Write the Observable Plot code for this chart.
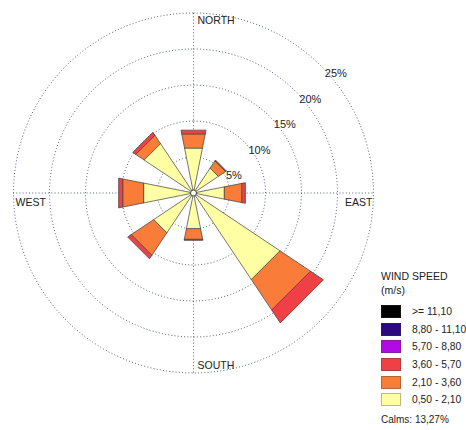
<!DOCTYPE html>
<html>
<head>
<meta charset="utf-8">
<script src="https://cdn.jsdelivr.net/npm/d3@7"></script>
<script src="https://cdn.jsdelivr.net/npm/@observablehq/plot@0.6"></script>
<style>
  html, body { margin: 0; padding: 0; background: #fff; }
  #chart { position: relative; width: 466px; height: 430px; font-family: "Liberation Sans", Arial, sans-serif; color: #222; }
  #chart > svg { position: absolute; left: 0; top: 0; }
  #key { position: absolute; left: 381px; top: 270px; width: 90px; font-size: 10.5px; line-height: 13px; color: #222; }
  #key .key-title { height: 13px; white-space: nowrap; }
  #key .key-unit { height: 13px; margin-top: 0.5px; margin-bottom: 8.5px; }
  #key .key-calms { margin-top: 1.5px; font-size: 10px; white-space: nowrap; }
  .rose-key-swatches { margin: 0 !important; width: 90px; font-family: "Liberation Sans", Arial, sans-serif !important; font-size: 10.3px !important; color: #222; }
  .rose-key-swatch { display: flex; align-items: center; height: 13px; padding-bottom: 4.7px !important; }
  .rose-key-swatch > svg { margin-right: 11px !important; outline: 1px solid rgba(60,60,40,0.35); outline-offset: -1px; }
  .rose-key-swatch-label { overflow: visible !important; text-overflow: clip !important; white-space: nowrap; }
</style>
</head>
<body>
<div id="chart"></div>
<script>
// Wind rose: frequency (%) of wind from each of 8 directions, split by speed class (m/s)
const directions = ["N", "NE", "E", "SE", "S", "SW", "W", "NW"];
const bearings = [0, 45, 90, 135, 180, 225, 270, 315];

// speed classes, listed as in the key (fastest first)
const speedClasses = [">= 11,10", "8,80 - 11,10", "5,70 - 8,80", "3,60 - 5,70", "2,10 - 3,60", "0,50 - 2,10"];
const classColors = ["#000000", "#2c0a7e", "#b00ae6", "#ef4046", "#f97d39", "#ffffa4"];

// frequency (%) per direction, one array per speed class
const freq050to210 = [6.4, 4.2, 4.4, 14.5, 5.1, 6.7, 7.1, 8.3];
const freq210to360 = [2.0, 1.2, 2.5, 5.1, 1.5, 3.75, 2.95, 1.4];
const freq360to570 = [0.5, 0.1, 0.45, 2.1, 0.1, 0.55, 0.55, 0.45];
const freq570to880 = [0, 0, 0, 0, 0, 0, 0, 0];
const freq880to1110 = [0, 0, 0, 0, 0, 0, 0, 0];
const freqAbove1110 = [0, 0, 0, 0, 0, 0, 0, 0];
const calmsPct = 13.27;

// frequency rings and their labels
const rings = [5, 10, 15, 20, 25];
const ringLabels = ["5%", "10%", "15%", "20%", "25%"];
const compassLabels = ["NORTH", "EAST", "SOUTH", "WEST"];
const compassBearings = [0, 90, 180, 270];

// ---- geometry helpers (data units are percent) ----
const rad = (deg) => deg * Math.PI / 180;
const polarX = (r, deg) => r * Math.sin(rad(deg));
const polarY = (r, deg) => r * Math.cos(rad(deg));
const petalHalfWidth = 11.25;
const outer = d3.max(rings);

// petals stacked outward from the slowest class
const stackSeries = [freq050to210, freq210to360, freq360to570, freq570to880, freq880to1110, freqAbove1110];
const stackClasses = speedClasses.slice().reverse();
const petalRows = [];
directions.forEach((dir, i) => {
  let r0 = 0;
  stackSeries.forEach((series, k) => {
    const v = series[i];
    if (!(v > 0)) return;
    const r1 = r0 + v;
    const a0 = bearings[i] - petalHalfWidth, a1 = bearings[i] + petalHalfWidth;
    const id = `${dir}-${k}`;
    [[r0, a0], [r1, a0], [r1, a1], [r0, a1]].forEach(([r, a]) =>
      petalRows.push({id, cls: stackClasses[k], x: polarX(r, a), y: polarY(r, a)}));
    r0 = r1;
  });
});

// dotted frequency circles
const ringRows = rings.flatMap((r) => d3.range(0, 360, 2).map((a) => ({ring: r, x: polarX(r, a), y: polarY(r, a)})));

// 7.2 px per percent, rose centred at (193, 192.5)
const W = 466, H = 430, pxPerPct = 7.2, cx = 193, cy = 192.5;

const gridStyle = {stroke: "#47527c", strokeWidth: 0.9, strokeDasharray: "1 2.2", strokeLinecap: "butt"};
const compass = compassLabels.map((label, i) => ({label, x: polarX(outer, compassBearings[i]), y: polarY(outer, compassBearings[i])}));

const plot = Plot.plot({
  width: W,
  height: H,
  margin: 0,
  style: {fontFamily: "'Liberation Sans', Arial, sans-serif", color: "#222", background: "transparent"},
  x: {domain: [-cx / pxPerPct, (W - cx) / pxPerPct], axis: null},
  y: {domain: [-(H - cy) / pxPerPct, cy / pxPerPct], axis: null},
  color: {domain: speedClasses, range: classColors},
  marks: [
    Plot.line(ringRows, {x: "x", y: "y", z: "ring", curve: "linear-closed", fill: "none", ...gridStyle}),
    Plot.ruleX([0], {y1: -outer, y2: outer, ...gridStyle}),
    Plot.ruleY([0], {x1: -outer, x2: outer, ...gridStyle}),
    Plot.line(petalRows, {x: "x", y: "y", z: "id", fill: "cls", stroke: "#3b3b3b", strokeWidth: 0.7, strokeLinejoin: "miter", curve: "linear-closed"}),
    Plot.dot([calmsPct], {x: () => 0, y: () => 0, r: 3, fill: "white", stroke: "#333", strokeWidth: 0.9}),
    Plot.text(rings, {x: (r) => polarX(r, 45), y: (r) => polarY(r, 45), text: (r, i) => ringLabels[i], dx: 15, dy: 8, fontSize: 11, fill: "#222"}),
    Plot.text(compass.filter((d) => d.label === "NORTH"), {x: "x", y: "y", text: "label", textAnchor: "start", dx: 4, dy: 7.5, fontSize: 10.5, fill: "#222"}),
    Plot.text(compass.filter((d) => d.label === "SOUTH"), {x: "x", y: "y", text: "label", textAnchor: "start", dx: 4, dy: -7.5, fontSize: 10.5, fill: "#222"}),
    Plot.text(compass.filter((d) => d.label === "WEST"), {x: "x", y: "y", text: "label", textAnchor: "start", dx: 2, dy: 9.5, fontSize: 10.5, fill: "#222"}),
    Plot.text(compass.filter((d) => d.label === "EAST"), {x: "x", y: "y", text: "label", textAnchor: "end", dx: -1, dy: 9.5, fontSize: 10.5, fill: "#222"})
  ]
});

const chart = document.getElementById("chart");
chart.appendChild(plot);

// key: title, swatches from the colour scale, calms
const key = document.createElement("div");
key.id = "key";
const title = document.createElement("div");
title.className = "key-title";
title.textContent = "WIND SPEED";
const unit = document.createElement("div");
unit.className = "key-unit";
unit.textContent = "(m/s)";
key.appendChild(title);
key.appendChild(unit);
key.appendChild(Plot.legend({
  color: {type: "ordinal", domain: speedClasses, range: classColors},
  legend: "swatches",
  columns: 1,
  swatchWidth: 20,
  swatchHeight: 13,
  className: "rose-key"
}));
const calms = document.createElement("div");
calms.className = "key-calms";
calms.textContent = `Calms: ${calmsPct.toFixed(2).replace(".", ",")}%`;
key.appendChild(calms);
chart.appendChild(key);
</script>
</body>
</html>
